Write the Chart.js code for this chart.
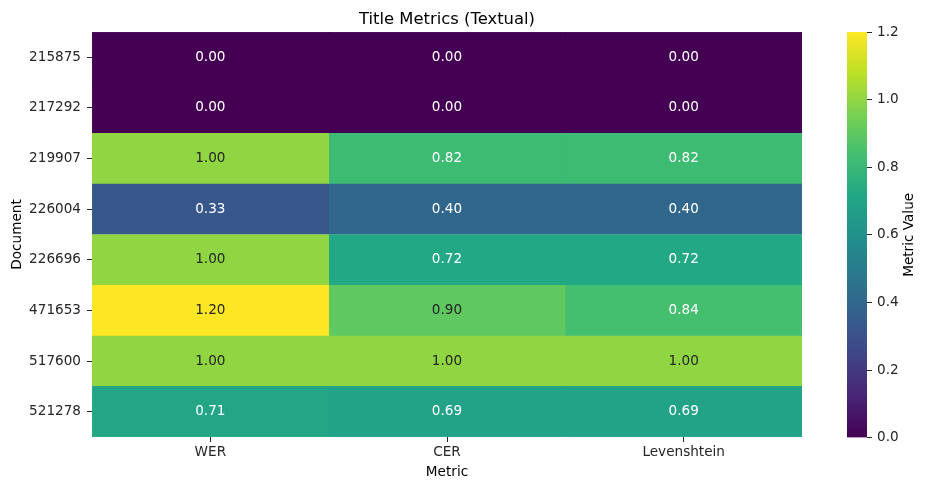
<!DOCTYPE html>
<html>
<head>
<meta charset="utf-8">
<script src="https://cdn.jsdelivr.net/npm/chart.js@4/dist/chart.umd.min.js"></script>
<style>
  body { margin: 0; background: #fff; }
  #wrap { position: relative; width: 928px; height: 491px; }
  #wrap canvas { position: absolute; left: 0; top: 0; }
  #cbar { pointer-events: none; }
</style>
</head>
<body>
<div id="wrap">
  <canvas id="heat" width="928" height="491"></canvas>
  <canvas id="cbar" width="928" height="491"></canvas>
</div>
<script>
"use strict";

// rows (top to bottom) and columns of the heatmap
var documents = ['215875', '217292', '219907', '226004', '226696', '471653', '517600', '521278'];
var metrics = ['WER', 'CER', 'Levenshtein'];

// values per metric, one per document
var werValues = [0.00, 0.00, 1.00, 0.33, 1.00, 1.20, 1.00, 0.71];
var cerValues = [0.00, 0.00, 0.82, 0.40, 0.72, 0.90, 1.00, 0.69];
var levValues = [0.00, 0.00, 0.82, 0.40, 0.72, 0.84, 1.00, 0.69];

// colour bar range and ticks
var vmin = 0;
var vmax = 1.2;
var cbarTicks = [0.0, 0.2, 0.4, 0.6, 0.8, 1.0, 1.2];

var FONT = "'DejaVu Sans', sans-serif";
var FS = 13.6;

// viridis colormap stops
var viridis = ['#440154', '#482475', '#414487', '#355f8d', '#2a788e', '#21918c',
               '#22a884', '#44bf70', '#7ad151', '#bddf26', '#fde725'];

function hexToRgb(h) {
	return [parseInt(h.substr(1, 2), 16), parseInt(h.substr(3, 2), 16), parseInt(h.substr(5, 2), 16)];
}

function colorFor(v) {
	var t = (v - vmin) / (vmax - vmin);
	t = Math.max(0, Math.min(1, t));
	var p = t * (viridis.length - 1);
	var i = Math.min(Math.floor(p), viridis.length - 2);
	var f = p - i;
	var a = hexToRgb(viridis[i]), b = hexToRgb(viridis[i + 1]);
	return [0, 1, 2].map(function (k) { return Math.round(a[k] + (b[k] - a[k]) * f); });
}

function rgbStr(c) { return 'rgb(' + c[0] + ',' + c[1] + ',' + c[2] + ')'; }

// seaborn-style text colour: dark text on light cells
function textColorFor(v) {
	var c = colorFor(v).map(function (x) {
		x = x / 255;
		return x <= 0.03928 ? x / 12.92 : Math.pow((x + 0.055) / 1.055, 2.4);
	});
	var lum = 0.2126 * c[0] + 0.7152 * c[1] + 0.0722 * c[2];
	return lum > 0.408 ? '#262626' : '#ffffff';
}

var columns = [werValues, cerValues, levValues];

// one dataset per metric column, each cell is a width-1 stacked bar
var datasets = columns.map(function (vals, j) {
	return {
		label: metrics[j],
		data: vals.map(function () { return 1; }),
		values: vals,
		backgroundColor: vals.map(function (v) { return rgbStr(colorFor(v)); }),
		borderColor: vals.map(function (v) { return rgbStr(colorFor(v)); }),
		borderWidth: 0.5,
		borderSkipped: false,
		barPercentage: 1,
		categoryPercentage: 1
	};
});

// writes the value inside each cell
var cellLabels = {
	id: 'cellLabels',
	afterDatasetsDraw: function (chart) {
		var ctx = chart.ctx;
		ctx.save();
		ctx.font = FS + 'px ' + FONT;
		ctx.textAlign = 'center';
		ctx.textBaseline = 'middle';
		chart.data.datasets.forEach(function (ds, j) {
			chart.getDatasetMeta(j).data.forEach(function (el, i) {
				var v = ds.values[i];
				var p = el.getCenterPoint();
				ctx.fillStyle = textColorFor(v);
				ctx.fillText(v.toFixed(2), p.x, p.y);
			});
		});
		ctx.restore();
	}
};

var tickGrid = {
	display: true,
	drawOnChartArea: false,
	drawTicks: true,
	tickLength: 5,
	tickWidth: 1,
	tickColor: '#262626'
};

new Chart(document.getElementById('heat'), {
	type: 'bar',
	data: { labels: documents, datasets: datasets },
	options: {
		indexAxis: 'y',
		responsive: false,
		animation: false,
		events: [],
		layout: { padding: 0 },
		plugins: {
			legend: { display: false },
			tooltip: { enabled: false },
			title: {
				display: true,
				fullSize: false,
				text: 'Title Metrics (Textual)',
				color: '#000',
				font: { family: FONT, size: 16.4, weight: 'normal' },
				padding: { top: 9.5, bottom: 2.8 }
			}
		},
		scales: {
			x: {
				type: 'linear',
				stacked: true,
				min: 0,
				max: metrics.length,
				afterBuildTicks: function (s) {
					s.ticks = metrics.map(function (m, j) { return { value: j + 0.5 }; });
				},
				afterFit: function (s) { s.height = 54; },
				ticks: {
					color: '#262626',
					padding: 2.5,
					maxRotation: 0,
					font: { family: FONT, size: FS },
					callback: function (v) { return metrics[Math.floor(v)]; }
				},
				grid: tickGrid,
				border: { display: false },
				title: {
					display: true,
					text: 'Metric',
					color: '#000',
					font: { family: FONT, size: FS },
					padding: { top: 0, bottom: 10.8 }
				}
			},
			y: {
				type: 'category',
				stacked: true,
				afterFit: function (s) { s.width = 92; },
				ticks: {
					color: '#262626',
					padding: 6,
					font: { family: FONT, size: FS }
				},
				grid: Object.assign({ offset: false }, tickGrid),
				border: { display: false },
				title: {
					display: true,
					text: 'Document',
					color: '#000',
					font: { family: FONT, size: FS },
					padding: { top: 9, bottom: 0 }
				}
			},
			// keeps room on the right for the colour bar
			room: {
				type: 'linear',
				position: 'right',
				display: true,
				afterFit: function (s) { s.width = 126; },
				ticks: { display: false },
				grid: { display: false },
				border: { display: false }
			}
		}
	},
	plugins: [cellLabels]
});

// colour bar: one bar from vmin to vmax filled with the colormap
var cbarTitle = {
	id: 'cbarTitle',
	afterDraw: function (chart) {
		var a = chart.chartArea;
		var ctx = chart.ctx;
		ctx.save();
		ctx.translate(909, (a.top + a.bottom) / 2);
		ctx.rotate(-Math.PI / 2);
		ctx.font = FS + 'px ' + FONT;
		ctx.fillStyle = '#000';
		ctx.textAlign = 'center';
		ctx.textBaseline = 'middle';
		ctx.fillText('Metric Value', 0, 0);
		ctx.restore();
	}
};

new Chart(document.getElementById('cbar'), {
	type: 'bar',
	data: {
		labels: ['Metric Value'],
		datasets: [{
			data: [vmax],
			barPercentage: 1,
			categoryPercentage: 1,
			borderWidth: 0,
			backgroundColor: function (c) {
				var a = c.chart.chartArea;
				if (!a) return null;
				var g = c.chart.ctx.createLinearGradient(0, a.bottom, 0, a.top);
				viridis.forEach(function (col, k) { g.addColorStop(k / (viridis.length - 1), col); });
				return g;
			}
		}]
	},
	options: {
		responsive: false,
		animation: false,
		events: [],
		layout: { padding: { left: 847, top: 32, bottom: 53.3, right: 0 } },
		plugins: { legend: { display: false }, tooltip: { enabled: false } },
		scales: {
			x: { display: false },
			y: {
				position: 'right',
				min: vmin,
				max: vmax,
				afterFit: function (s) { s.width = 61; },
				afterBuildTicks: function (s) {
					s.ticks = cbarTicks.map(function (v) { return { value: v }; });
				},
				ticks: {
					color: '#262626',
					padding: 5,
					font: { family: FONT, size: FS },
					callback: function (v) { return v.toFixed(1); }
				},
				grid: tickGrid,
				border: { display: false }
			}
		}
	},
	plugins: [cbarTitle]
});
</script>
</body>
</html>
